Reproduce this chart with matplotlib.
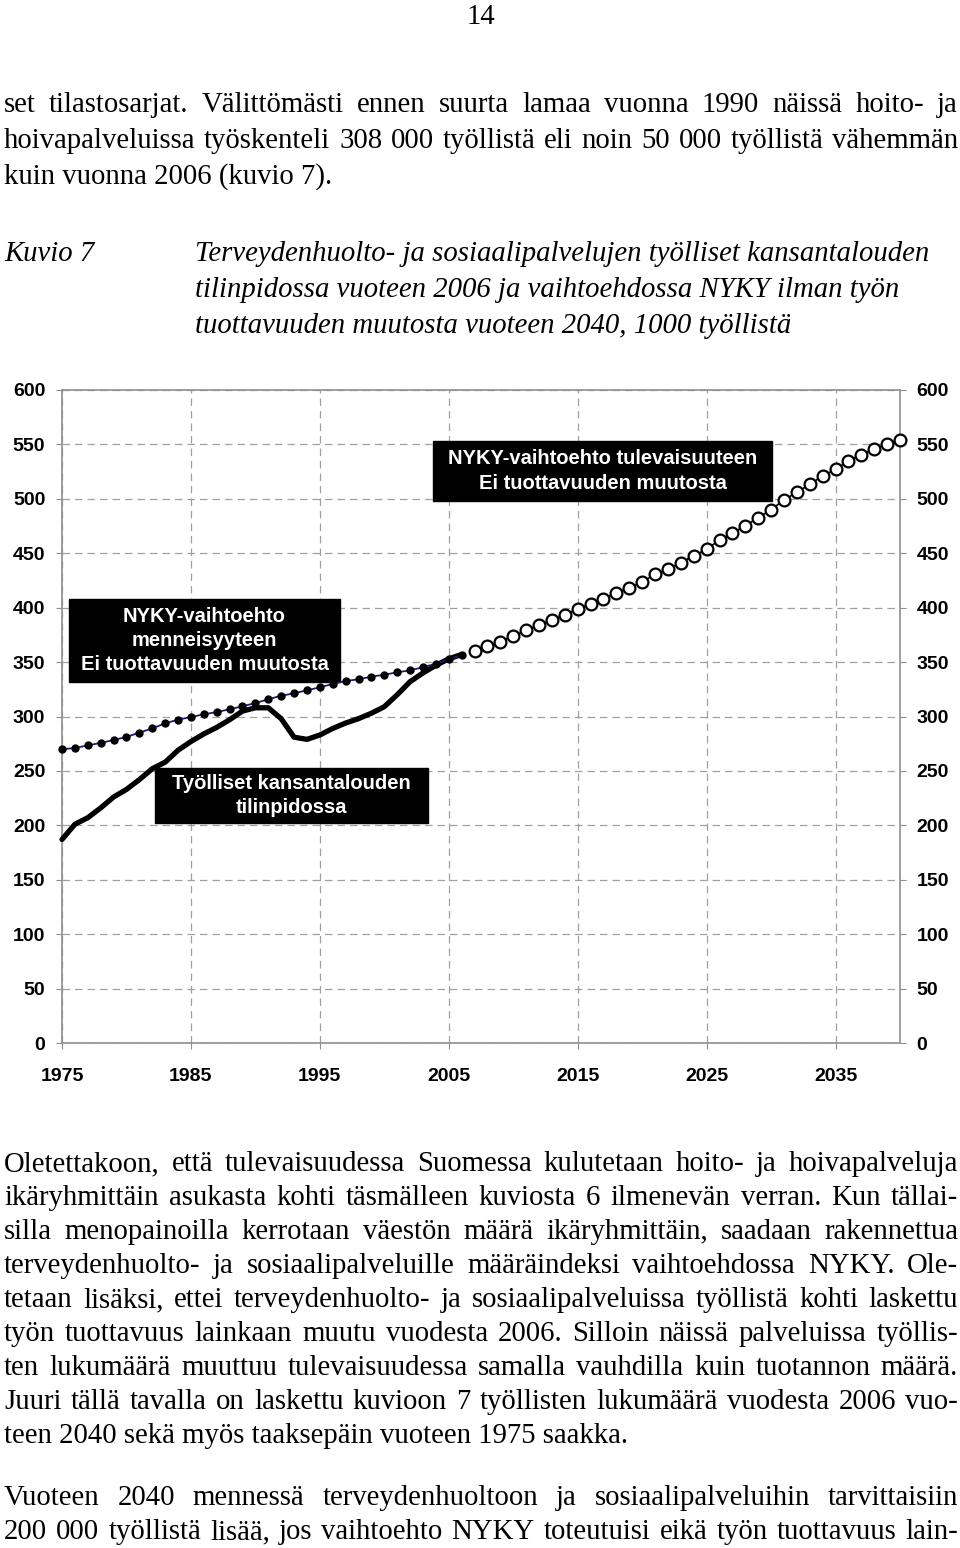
import matplotlib
matplotlib.use('Agg')
import matplotlib.pyplot as plt
from matplotlib.patches import Rectangle

plt.rcParams['font.family'] = ['Liberation Sans', 'DejaVu Sans']
plt.rcParams['font.weight'] = 'bold'

W, H = 960, 1548
serif = 'Liberation Serif'

# chart data, 1000 persons
years_past = list(range(1975, 2007))
tyolliset = [187, 201, 207, 216, 226, 233, 242, 252, 258, 269,
             277, 284, 290, 297, 305, 308, 308, 298, 281, 279,
             283, 289, 294, 298, 303, 309, 320, 332, 340, 347, 353, 357]
nyky_past = [270, 271, 273.5, 275.7, 278.4, 281.2, 285.2, 289.1, 293.7, 297.1,
             299.5, 302, 304.1, 306.6, 309.4, 312.4, 315.8, 319.1, 321.3, 324.1,
             326.8, 329.9, 332.6, 334.2, 336.6, 338.4, 340.6, 342.4, 345.3, 348.5,
             352.6, 356.5]
years_future = list(range(2007, 2041))
nyky_future = [360.2, 364.8, 368.8, 374.0, 379.2, 383.8, 388.7, 393.3, 398.5, 403.7,
               408.3, 413.2, 418.4, 423.6, 430.7, 435.5, 441.3, 447.8, 453.6, 462.2,
               468.3, 475.3, 482.7, 490.0, 498.9, 506.0, 513.4, 521.0, 527.1, 534.8,
               540.6, 545.5, 550.7, 554.4]
x_ticks = [1975, 1985, 1995, 2005, 2015, 2025, 2035]
y_ticks = list(range(0, 601, 50))

label_future = "NYKY-vaihtoehto tulevaisuuteen\nEi tuottavuuden muutosta"
label_past = "NYKY-vaihtoehto\nmenneisyyteen\nEi tuottavuuden muutosta"
label_actual = "Työlliset kansantalouden\ntilinpidossa"

# page text
page_no = "14"
para_top = [
    ("set tilastosarjat. Välittömästi ennen suurta lamaa vuonna 1990 näissä hoito- ja", True),
    ("hoivapalveluissa työskenteli 308 000 työllistä eli noin 50 000 työllistä vähemmän", True),
    ("kuin vuonna 2006 (kuvio 7).", False),
]
caption_head = "Kuvio 7"
caption = [
    "Terveydenhuolto- ja sosiaalipalvelujen työlliset kansantalouden",
    "tilinpidossa vuoteen 2006 ja vaihtoehdossa NYKY ilman työn",
    "tuottavuuden muutosta vuoteen 2040, 1000 työllistä",
]
para_bottom = [
    ("Oletettakoon, että tulevaisuudessa Suomessa kulutetaan hoito- ja hoivapalveluja", True),
    ("ikäryhmittäin asukasta kohti täsmälleen kuviosta 6 ilmenevän verran. Kun tällai-", True),
    ("silla menopainoilla kerrotaan väestön määrä ikäryhmittäin, saadaan rakennettua", True),
    ("terveydenhuolto- ja sosiaalipalveluille määräindeksi vaihtoehdossa NYKY. Ole-", True),
    ("tetaan lisäksi, ettei terveydenhuolto- ja sosiaalipalveluissa työllistä kohti laskettu", True),
    ("työn tuottavuus lainkaan muutu vuodesta 2006. Silloin näissä palveluissa työllis-", True),
    ("ten lukumäärä muuttuu tulevaisuudessa samalla vauhdilla kuin tuotannon määrä.", True),
    ("Juuri tällä tavalla on laskettu kuvioon 7 työllisten lukumäärä vuodesta 2006 vuo-", True),
    ("teen 2040 sekä myös taaksepäin vuoteen 1975 saakka.", False),
]
para_last = [
    ("Vuoteen 2040 mennessä terveydenhuoltoon ja sosiaalipalveluihin tarvittaisiin", True),
    ("200 000 työllistä lisää, jos vaihtoehto NYKY toteutuisi eikä työn tuottavuus lain-", True),
]

fig = plt.figure(figsize=(W / 100, H / 100), dpi=100)
rend = fig.canvas.get_renderer()


def text_width(s, fs, style='normal'):
    t = fig.text(0, 0, s, fontsize=fs, family=serif, style=style, weight='normal')
    w = t.get_window_extent(rend).width
    t.remove()
    return w


def put_line(s, x0, x1, base, fs, justify, style='normal'):
    kw = dict(fontsize=fs, family=serif, style=style, weight='normal',
              va='baseline', ha='left')
    if not justify:
        fig.text(x0 / W, 1 - base / H, s, **kw)
        return
    words = s.split(' ')
    widths = [text_width(w, fs, style) for w in words]
    gap = (x1 - x0 - sum(widths)) / (len(words) - 1)
    x = x0
    for w, wd in zip(words, widths):
        fig.text(x / W, 1 - base / H, w, **kw)
        x += wd + gap


# font size so the longest justified line just fits
all_lines = para_top + para_bottom + para_last
widest = max(text_width(s, 20) for s, j in all_lines if j)
fs = min(21, 20 * 940 / widest)

fig.text(481 / W, 1 - 24 / H, page_no, fontsize=fs, family=serif, weight='normal',
         ha='center', va='baseline')
for i, (s, j) in enumerate(para_top):
    put_line(s, 4, 958, 112 + 36 * i, fs, j)

put_line(caption_head, 4, 958, 261, fs, False, style='italic')
for i, s in enumerate(caption):
    put_line(s, 195, 958, 261 + 36 * i, fs, False, style='italic')

for i, (s, j) in enumerate(para_bottom):
    put_line(s, 4, 958, 1171 + 34 * i, fs, j)
for i, (s, j) in enumerate(para_last):
    put_line(s, 4, 958, 1505 + 34 * i, fs, j)

# chart
ax = fig.add_axes([62 / W, 505 / H, 838 / W, 653 / H])
ax.set_xlim(1975, 2040)
ax.set_ylim(0, 600)
gray = '#8f8f8f'
for sp in ax.spines.values():
    sp.set_color(gray)
    sp.set_linewidth(1.2)
ax.grid(True, linestyle=(0, (6, 4)), color='#a0a0a0', linewidth=0.9)
ax.set_axisbelow(True)
ax.set_xticks(x_ticks)
ax.set_yticks(y_ticks)
ax.tick_params(axis='x', direction='out', length=4, color=gray, labelsize=14, pad=14)
ax.tick_params(axis='y', direction='out', length=4, color=gray, labelsize=14, pad=8,
               left=True, right=True, labelleft=True, labelright=True)

ax.plot(years_past, tyolliset, color='black', linewidth=3.8, solid_joinstyle='round',
        solid_capstyle='round', zorder=4, clip_on=False)
ax.plot(years_past, nyky_past, color='#1c1c6e', linewidth=1.3, marker='o', markersize=5,
        markerfacecolor='black', markeredgecolor='black', zorder=5, clip_on=False)
ax.plot(years_future, nyky_future, color='black', linewidth=1.2, marker='o', markersize=8.5,
        markerfacecolor='white', markeredgecolor='black', markeredgewidth=1.6,
        zorder=5, clip_on=False)


def box(x0, x1, y0, y1, s):
    ax.add_patch(Rectangle((x0, y0), x1 - x0, y1 - y0, facecolor='black',
                           edgecolor='black', zorder=3))
    ax.text((x0 + x1) / 2, (y0 + y1) / 2, s, color='white', ha='center', va='center',
            fontsize=14.5, fontweight='bold', zorder=3.5, linespacing=1.35)


box(2003.78, 2030.07, 498.0, 553.2, label_future)
box(1975.54, 1996.56, 331.7, 408.0, label_past)
box(1982.21, 2003.39, 202.1, 252.7, label_actual)

fig.savefig('out.png', dpi=100)
